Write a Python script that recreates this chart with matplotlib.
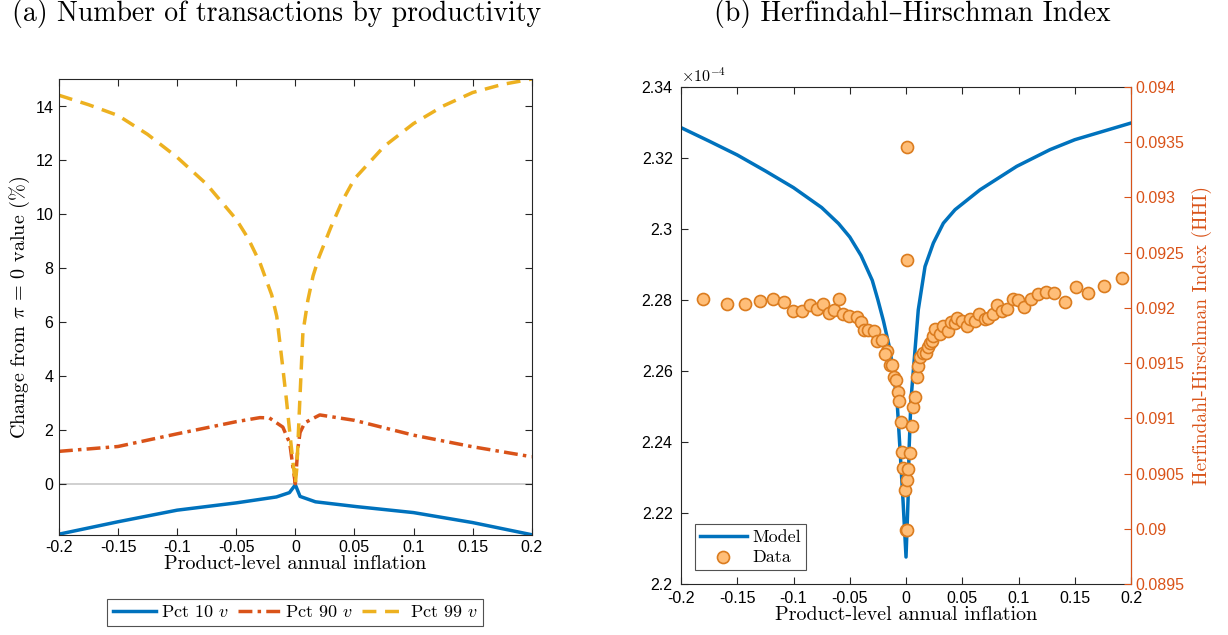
import numpy as np
import matplotlib
matplotlib.use("Agg")
import matplotlib.pyplot as plt

plt.rcParams["mathtext.fontset"] = "cm"
plt.rcParams["axes.formatter.use_mathtext"] = True
plt.rcParams["font.family"] = ["Liberation Sans", "DejaVu Sans"]

BLUE = "#0072BD"
ORANGE = "#D95319"
YELLOW = "#EDB120"
SERIF = ["cmr10", "DejaVu Serif"]

# (a) change from pi = 0 value (%)
x_p10 = [-0.2, -0.15, -0.1, -0.05, -0.016, -0.005, 0, 0.004, 0.017, 0.052, 0.1, 0.15, 0.2]
pct10 = [-1.87, -1.41, -0.98, -0.71, -0.49, -0.33, -0.04, -0.47, -0.67, -0.85, -1.07, -1.44, -1.89]

x_p90 = [-0.2, -0.15, -0.1, -0.05, -0.03, -0.022, -0.0106, -0.0047, -0.002, 0,
         0.002, 0.004, 0.008, 0.0207, 0.05, 0.1, 0.15, 0.2]
pct90 = [1.2, 1.38, 1.85, 2.3, 2.45, 2.44, 2.1, 1.5, 0.6, 0.0,
         1.26, 1.9, 2.26, 2.55, 2.35, 1.8, 1.37, 1.0]

x_p99 = [-0.2, -0.175, -0.15, -0.125, -0.1, -0.075, -0.05, -0.04, -0.03, -0.02, -0.0157,
         -0.0106, -0.0075, -0.0047, -0.0025, 0, 0.0013, 0.0038, 0.0064, 0.0106, 0.015,
         0.02, 0.03, 0.04, 0.05, 0.075, 0.1, 0.125, 0.15, 0.175, 0.2]
pct99 = [14.4, 14.05, 13.65, 12.95, 12.1, 11.1, 9.8, 9.1, 8.2, 7.0, 6.2,
         4.3, 3.1, 1.9, 1.0, 0.0, 0.6, 3.1, 5.6, 6.8, 7.7,
         8.4, 9.5, 10.5, 11.3, 12.5, 13.35, 14.0, 14.5, 14.8, 15.0]

# (b) model HHI (x 1e-4)
x_model = [-0.2, -0.175, -0.15, -0.125, -0.1, -0.075, -0.06, -0.05, -0.04, -0.03, -0.025, -0.02,
           -0.0142, -0.008, -0.0053, -0.0027, 0, 0.0018, 0.0027, 0.0044, 0.008, 0.0109,
           0.0169, 0.0243, 0.0332, 0.0436, 0.0658, 0.0984, 0.128, 0.15, 0.2]
hhi_model = [2.3285, 2.3247, 2.3208, 2.3163, 2.3116, 2.3060, 2.3015, 2.2977, 2.2925, 2.2855, 2.2800, 2.2740,
             2.2659, 2.2518, 2.2377, 2.2237, 2.2076, 2.2237, 2.2377, 2.2518, 2.2659, 2.2772,
             2.2894, 2.2960, 2.3016, 2.3054, 2.3110, 2.3176, 2.3223, 2.3251, 2.3298]

# (b) data HHI
x_data = [-0.1802, -0.1594, -0.1431, -0.1295, -0.1185, -0.1084, -0.1002, -0.0924, -0.0853, -0.0794,
          -0.0735, -0.0684, -0.0637, -0.0593, -0.0557, -0.0507, -0.0438, -0.0403, -0.0373, -0.0335,
          -0.0289, -0.0258, -0.0213, -0.0172, -0.0187, -0.0142, -0.0122, -0.0111, -0.0086, -0.0074,
          -0.0060, -0.0047, -0.0038, -0.0027, -0.0009, 0.0002, 0.0006, 0.0006, 0.0013, 0.0013,
          0.0022, 0.0031, 0.0051, 0.0062, 0.0082, 0.0095, 0.0109, 0.0124, 0.0151, 0.0178,
          0.0198, 0.0213, 0.0228, 0.0243, 0.0262, 0.0300, 0.0332, 0.0372, 0.0400, 0.0436,
          0.0453, 0.0495, 0.0540, 0.0569, 0.0613, 0.0649, 0.0702, 0.0732, 0.0771, 0.0812,
          0.0851, 0.0898, 0.0947, 0.0998, 0.1049, 0.1108, 0.1176, 0.1243, 0.1320, 0.1411,
          0.1509, 0.1620, 0.1757, 0.1917]
hhi_data = [0.092076, 0.092037, 0.092031, 0.092057, 0.092084, 0.092052, 0.091971, 0.091971, 0.092022, 0.091986,
            0.092037, 0.091957, 0.091978, 0.092084, 0.091947, 0.091929, 0.091921, 0.091874, 0.091795, 0.091795,
            0.091786, 0.091698, 0.091705, 0.091606, 0.091580, 0.091479, 0.091479, 0.091373, 0.091346, 0.091234,
            0.091152, 0.090963, 0.090693, 0.090548, 0.090348, 0.089993, 0.093453, 0.092437, 0.089993, 0.090438,
            0.090539, 0.090690, 0.090928, 0.091103, 0.091189, 0.091376, 0.091475, 0.091558, 0.091595, 0.091590,
            0.091642, 0.091678, 0.091700, 0.091741, 0.091806, 0.091764, 0.091836, 0.091793, 0.091872, 0.091865,
            0.091911, 0.091881, 0.091836, 0.091903, 0.091881, 0.091941, 0.091896, 0.091911, 0.091947, 0.092025,
            0.091971, 0.091989, 0.092079, 0.092068, 0.092007, 0.092076, 0.092129, 0.092144, 0.092136, 0.092055,
            0.092187, 0.092136, 0.092196, 0.092266]

xticks = [-0.2, -0.15, -0.1, -0.05, 0, 0.05, 0.1, 0.15, 0.2]
xticklabels = ["-0.2", "-0.15", "-0.1", "-0.05", "0", "0.05", "0.1", "0.15", "0.2"]

fig = plt.figure(figsize=(12.28, 6.35), dpi=100)

# ---- panel (a)
ax1 = fig.add_axes([0.048, 0.1575, 0.385, 0.718])
ax1.axhline(0, color="#c8c8c8", lw=1.2, zorder=1)
ax1.plot(x_p10, pct10, color=BLUE, lw=2.5, label=r"Pct 10 $v$")
ax1.plot(x_p90, pct90, color=ORANGE, lw=2.5, ls=(0, (4, 1.5, 1, 1.5)), label=r"Pct 90 $v$")
ax1.plot(x_p99, pct99, color=YELLOW, lw=2.5, ls=(0, (4, 2.5)), label=r"Pct 99 $v$")
ax1.set_xlim(-0.2, 0.2)
ax1.set_ylim(-1.9, 15)
ax1.set_xticks(xticks)
ax1.set_xticklabels(xticklabels)
ax1.set_yticks(range(0, 16, 2))
ax1.set_xlabel("Product-level annual inflation", fontsize=14.5, family=SERIF, labelpad=0)
ax1.set_ylabel(r"Change from $\pi$ = 0 value (%)", fontsize=14.5, family=SERIF, labelpad=2)
ax1.tick_params(direction="in", top=True, right=True, labelsize=11.5, length=5, color="#262626")
for s in ax1.spines.values():
    s.set_color("#262626")
    s.set_linewidth(0.8)
leg1 = ax1.legend(loc="upper center", bbox_to_anchor=(0.5, -0.12), ncol=3, frameon=True,
                  fancybox=False, edgecolor="#262626", handlelength=2.4, handletextpad=0.25,
                  columnspacing=0.5, borderpad=0.3, prop={"family": SERIF, "size": 13})
leg1.get_frame().set_linewidth(0.8)

# ---- panel (b)
ax2 = fig.add_axes([0.5546, 0.0803, 0.3664, 0.783])
ax2.plot(x_model, hhi_model, color=BLUE, lw=2.5, label="Model")
ax2.set_xlim(-0.2, 0.2)
ax2.set_ylim(2.2, 2.34)
ax2.set_yticks([2.2, 2.22, 2.24, 2.26, 2.28, 2.3, 2.32, 2.34])
ax2.set_yticklabels(["2.2", "2.22", "2.24", "2.26", "2.28", "2.3", "2.32", "2.34"])
ax2.set_xticks(xticks)
ax2.set_xticklabels(xticklabels)
ax2.tick_params(direction="in", top=True, labelsize=11.5, length=5, color="#262626")
ax2.tick_params(axis="y", pad=6)
ax2.tick_params(axis="x", pad=5)
ax2.set_xlabel("Product-level annual inflation", fontsize=14.5, family=SERIF, labelpad=0)
ax2.text(0.0, 1.005, r"$\times 10^{-4}$", transform=ax2.transAxes, fontsize=11.5,
         ha="left", va="bottom", family=["Liberation Sans"])
for s in ax2.spines.values():
    s.set_color("#262626")
    s.set_linewidth(0.8)

ax3 = ax2.twinx()
ax3.scatter(x_data, hhi_data, s=75, facecolor="#FFBE78", edgecolor="#DB7C1F", linewidth=1.2,
            zorder=3, label="Data")
ax3.set_ylim(0.0895, 0.094)
ax3.set_yticks(np.arange(0.0895, 0.09401, 0.0005))
ax3.set_yticklabels(["0.0895", "0.09", "0.0905", "0.091", "0.0915", "0.092", "0.0925",
                     "0.093", "0.0935", "0.094"])
ax3.tick_params(direction="in", labelsize=11.5, length=5, colors=ORANGE)
ax3.spines["right"].set_color(ORANGE)
ax3.spines["right"].set_linewidth(0.8)
ax3.spines["left"].set_visible(False)
ax3.spines["top"].set_visible(False)
ax3.spines["bottom"].set_visible(False)
ax3.set_ylabel("Herfindahl-Hirschman Index (HHI)", fontsize=14, family=SERIF, color=ORANGE,
               labelpad=5)

h1, l1 = ax2.get_legend_handles_labels()
h2, l2 = ax3.get_legend_handles_labels()
leg2 = ax3.legend(h1 + h2, l1 + l2, loc="lower left", bbox_to_anchor=(0.01, 0.01), frameon=True,
                  fancybox=False, edgecolor="#262626", handlelength=2.6, handletextpad=0.3,
                  borderpad=0.3, labelspacing=0.2, prop={"family": SERIF, "size": 13})
leg2.get_frame().set_linewidth(0.8)

fig.text(0.225, 0.978, "(a) Number of transactions by productivity", fontsize=20, family=SERIF,
         ha="center", va="center")
fig.text(0.743, 0.978, "(b) Herfindahl\u2013Hirschman Index", fontsize=20, family=SERIF,
         ha="center", va="center")

fig.savefig("out.png", dpi=100)
